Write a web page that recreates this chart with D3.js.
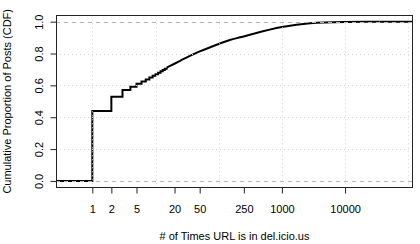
<!DOCTYPE html>
<html>
<head>
<meta charset="utf-8">
<script src="https://cdn.jsdelivr.net/npm/d3@7"></script>
<style>
  html, body { margin: 0; padding: 0; background: #fff; }
  svg { display: block; }
  text { font-family: "Liberation Sans", Arial, Helvetica, sans-serif; fill: #000; }
</style>
</head>
<body>
<svg id="chart" width="420" height="244"></svg>
<script>
// ---- data ----
const stepCounts = [1, 2, 3, 4, 5, 6, 7, 8, 9, 10, 11, 12, 13, 14, 15];
const stepCdf    = [0.439, 0.529, 0.571, 0.592, 0.610, 0.624, 0.637, 0.649, 0.660, 0.670, 0.679, 0.688, 0.696, 0.704, 0.711];
const curveCounts = [15, 17, 25, 35, 50, 100, 150, 220, 1000, 2800, 10000, 35000];
const curveCdf    = [0.711, 0.722, 0.756, 0.785, 0.813, 0.860, 0.885, 0.902, 0.967, 0.990, 0.998, 1.0];
const xTickValues = [1, 2, 5, 20, 50, 250, 1000, 10000];
const xTickLabels = ["1", "2", "5", "20", "50", "250", "1000", "10000"];
const yTickValues = [0, 0.2, 0.4, 0.6, 0.8, 1.0];
const yTickLabels = ["0.0", "0.2", "0.4", "0.6", "0.8", "1.0"];
const xGridValues = [1, 10, 100, 1000, 10000, 100000];
const yGridValues = [0.2, 0.4, 0.6, 0.8];
const yRefLines = [0, 1];
const xTitle = "# of Times URL is in del.icio.us";
const yTitle = "Cumulative Proportion of Posts (CDF)";

// ---- layout ----
const L = 56, R = 413, T = 15.3, B = 187.3;
const xMin = Math.pow(10, -0.575), xMax = Math.pow(10, 5.075);
const x = d3.scaleLog().domain([xMin, xMax]).range([L, R]);
const y = d3.scaleLinear().domain([-0.04, 1.04]).range([B, T]);

const svg = d3.select("#chart");
svg.append("defs").append("clipPath").attr("id", "plotclip")
  .append("rect").attr("x", L).attr("y", T).attr("width", R - L).attr("height", B - T);

const plot = svg.append("g").attr("clip-path", "url(#plotclip)");

// step part
const stepPts = [[xMin / 2, 0]].concat(stepCounts.map((c, i) => [c, stepCdf[i]]));
const lineStep = d3.line().x(d => x(d[0])).y(d => y(d[1])).curve(d3.curveStepAfter);
plot.append("path").attr("d", lineStep(stepPts))
  .attr("fill", "none").attr("stroke", "#000").attr("stroke-width", 2);

// smooth part
const curvePts = curveCounts.map((c, i) => [c, curveCdf[i]]);
const lineCurve = d3.line().x(d => x(d[0])).y(d => y(d[1])).curve(d3.curveMonotoneX);
plot.append("path").attr("d", lineCurve(curvePts))
  .attr("fill", "none").attr("stroke", "#000").attr("stroke-width", 2);
// final flat part
const lastPt = curvePts[curvePts.length - 1];
plot.append("path").attr("d", d3.line().x(d => x(d[0])).y(d => y(d[1]))([lastPt, [xMax * 2, lastPt[1]]]))
  .attr("fill", "none").attr("stroke", "#000").attr("stroke-width", 2);

// grid on top (as in the reference)
plot.selectAll("line.vg").data(xGridValues).enter().append("line")
  .attr("x1", d => Math.round(x(d)) + 0.5).attr("x2", d => Math.round(x(d)) + 0.5)
  .attr("y1", T).attr("y2", B)
  .attr("stroke", "#d3d3d3").attr("stroke-width", 1).attr("stroke-dasharray", "1,3");
plot.selectAll("line.hg").data(yGridValues).enter().append("line")
  .attr("x1", L).attr("x2", R)
  .attr("y1", d => Math.round(y(d)) + 0.5).attr("y2", d => Math.round(y(d)) + 0.5)
  .attr("stroke", "#d3d3d3").attr("stroke-width", 1).attr("stroke-dasharray", "1,3");
plot.selectAll("line.ref").data(yRefLines).enter().append("line")
  .attr("x1", L).attr("x2", R)
  .attr("y1", d => Math.round(y(d)) + 0.5).attr("y2", d => Math.round(y(d)) + 0.5)
  .attr("stroke", "#b3b3b3").attr("stroke-width", 1).attr("stroke-dasharray", "4,4");

// box
svg.append("rect").attr("x", L + 0.5).attr("y", Math.round(T) + 0.5)
  .attr("width", R - L - 1).attr("height", Math.round(B) - Math.round(T))
  .attr("fill", "none").attr("stroke", "#222").attr("stroke-width", 1);

// x axis
const xAxis = d3.axisBottom(x).tickValues(xTickValues)
  .tickFormat((d, i) => xTickLabels[i]).tickSize(6).tickPadding(8).tickSizeOuter(0);
const gx = svg.append("g").attr("transform", `translate(0,${Math.round(B) + 0.5})`).call(xAxis);
gx.select(".domain").remove();
gx.selectAll(".tick line").attr("stroke", "#222");
gx.selectAll(".tick text").attr("font-size", 11).attr("dy", null).attr("y", 25.5)
  .style("font-family", "'Liberation Sans', Arial, sans-serif");

// y axis
const yAxis = d3.axisLeft(y).tickValues(yTickValues)
  .tickFormat((d, i) => yTickLabels[i]).tickSize(6).tickSizeOuter(0);
const gy = svg.append("g").attr("transform", `translate(${L + 0.5},0)`).call(yAxis);
gy.select(".domain").remove();
gy.selectAll(".tick line").attr("stroke", "#222");
gy.selectAll(".tick text").attr("font-size", 11)
  .attr("x", null).attr("dy", null).attr("y", null)
  .attr("text-anchor", "middle")
  .attr("transform", "translate(-14,0) rotate(-90)")
  .style("font-family", "'Liberation Sans', Arial, sans-serif");

// titles
svg.append("text").attr("x", (L + R) / 2).attr("y", 239.5)
  .attr("text-anchor", "middle").attr("font-size", 11).text(xTitle);
svg.append("text").attr("transform", `translate(10.6,${(T + B) / 2}) rotate(-90)`)
  .attr("text-anchor", "middle").attr("font-size", 11).text(yTitle);
</script>
</body>
</html>
